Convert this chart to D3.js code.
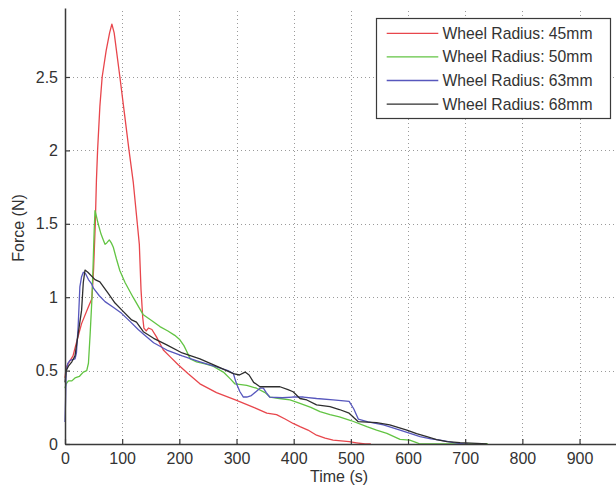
<!DOCTYPE html>
<html><head><meta charset="utf-8">
<script src="https://cdn.jsdelivr.net/npm/d3@7"></script>
<style>html,body{margin:0;padding:0;background:#fff;}svg{display:block;}</style>
</head><body>
<svg id="c" width="616" height="493"></svg>
<script>
const seriesNames = ["Wheel Radius: 45mm","Wheel Radius: 50mm","Wheel Radius: 63mm","Wheel Radius: 68mm"];
const seriesColors = ["#e8464c","#62c443","#5757bd","#2e2e2e"];
const xTicks = [0,100,200,300,400,500,600,700,800,900];
const yTicks = [0,0.5,1,1.5,2,2.5];

const r45 = [[0,0.45],[2,0.52],[6,0.55],[14,0.6],[20,0.69],[29,0.82],[41,0.935],[47,0.99],[50,1.19],[53,1.5],[55,1.8],[57,2.0],[61,2.3],[65,2.5],[72,2.68],[78,2.8],[82,2.86],[86,2.8],[96,2.5],[104,2.25],[112,2.0],[119.5,1.78],[126.5,1.5],[130,1.36],[133,1.05],[136,0.86],[138,0.79],[142,0.77],[146,0.79],[152,0.78],[160,0.73],[172,0.64],[185,0.59],[198,0.54],[215,0.48],[236,0.41],[265,0.35],[298,0.30],[330,0.25],[353,0.21],[370,0.20],[385,0.17],[399,0.14],[411,0.118],[425,0.095],[440,0.06],[455,0.04],[469,0.027],[497,0.016],[510,0.008],[525,0],[535,0]];
const r50 = [[0,0.38],[2,0.41],[6,0.43],[12,0.43],[17.5,0.45],[25,0.46],[32,0.49],[38,0.5],[41,0.55],[44,0.75],[47,0.98],[49,1.2],[51,1.45],[52.5,1.59],[55,1.55],[58,1.5],[63,1.43],[67,1.39],[70,1.36],[73,1.37],[77.5,1.39],[81,1.37],[84.5,1.34],[90,1.26],[96,1.18],[105,1.1],[119,1.0],[137,0.88],[152,0.84],[166,0.8],[180,0.77],[192,0.74],[201,0.71],[208,0.67],[213,0.63],[219,0.58],[230,0.56],[245,0.545],[259,0.53],[277,0.49],[290,0.44],[297,0.41],[308,0.405],[318,0.40],[335,0.38],[350,0.35],[358.5,0.32],[375,0.31],[393.6,0.30],[411,0.277],[430,0.25],[446,0.22],[463.5,0.2],[480,0.185],[500,0.16],[528,0.118],[545,0.095],[563,0.073],[586,0.032],[603,0.027],[615,0.01],[621,0],[740,0]];
const r63 = [[0,0.15],[1,0.3],[2,0.5],[5,0.55],[8.7,0.57],[17.5,0.58],[20,0.62],[23,0.80],[26,1.07],[29,1.14],[32,1.17],[36,1.16],[41,1.12],[46.6,1.09],[50,1.06],[60,1.01],[70,0.97],[85,0.93],[99,0.89],[115,0.83],[128,0.78],[137,0.75],[155,0.69],[178,0.64],[205,0.6],[236,0.56],[265,0.525],[285,0.5],[294.5,0.48],[297,0.447],[300,0.41],[306,0.356],[312,0.32],[318,0.32],[326,0.33],[335,0.36],[341,0.38],[347,0.38],[352,0.35],[358,0.32],[380,0.315],[398,0.32],[417,0.32],[440,0.31],[469,0.30],[497,0.29],[505,0.24],[513,0.17],[530,0.15],[557,0.13],[586,0.095],[605,0.07],[621,0.05],[640,0.035],[656,0.027],[680,0.01],[697,0],[705,0]];
const r68 = [[0,0.42],[2,0.5],[6,0.53],[12,0.56],[17.5,0.6],[23,0.75],[29,0.91],[32,1.1],[35,1.185],[40,1.17],[52.5,1.12],[61,1.105],[75,1.03],[87.5,0.96],[100,0.91],[116.6,0.845],[125,0.83],[137,0.765],[155,0.72],[178,0.675],[205,0.62],[236,0.58],[265,0.53],[294.5,0.48],[305,0.47],[315,0.49],[322,0.47],[330,0.42],[341,0.39],[360,0.39],[376,0.39],[390,0.37],[399,0.356],[411,0.31],[423,0.30],[440,0.266],[463.5,0.254],[480,0.235],[497,0.21],[505,0.18],[513,0.152],[545,0.145],[568,0.13],[598,0.095],[615,0.07],[633,0.05],[650,0.03],[668,0.016],[691,0.009],[720,0.004],[738,0]];
const seriesData = [r45, r50, r63, r68];

const svg = d3.select("#c");
const x = d3.scaleLinear().domain([0,1000]).range([65,636.7]);
const y = d3.scaleLinear().domain([0,2.97]).range([444,8]);
const font = "'Liberation Sans', Arial, sans-serif";

// grid (includes 1000 line, off the right edge)
const gridX = xTicks.concat([1000]).filter(d=>d>0);
const grid = svg.append("g").attr("stroke","#9a9a9a").attr("stroke-width",1).attr("stroke-dasharray","1,3");
grid.selectAll("line.v").data(gridX).enter().append("line")
  .attr("x1",d=>Math.round(x(d))+0.5).attr("x2",d=>Math.round(x(d))+0.5).attr("y1",y.range()[0]).attr("y2",y.range()[1]);
grid.selectAll("line.h").data(yTicks.filter(d=>d>0)).enter().append("line")
  .attr("y1",d=>Math.round(y(d))+0.5).attr("y2",d=>Math.round(y(d))+0.5).attr("x1",x.range()[0]).attr("x2",x.range()[1]);

// lines
const line = d3.line().x(d=>x(d[0])).y(d=>y(d[1]));
svg.append("g").selectAll("path").data(seriesData).enter().append("path")
  .attr("d",line).attr("fill","none").attr("stroke",(d,i)=>seriesColors[i])
  .attr("stroke-width",1.3).attr("stroke-linejoin","round");

// axes
const xAxis = svg.append("g").attr("transform",`translate(0,${y(0)})`)
  .call(d3.axisBottom(x).tickValues(xTicks).tickFormat(d3.format("d")).tickSize(-5).tickSizeOuter(0).tickPadding(8.5));
const yAxis = svg.append("g").attr("transform",`translate(${x(0)},0)`)
  .call(d3.axisLeft(y).tickValues(yTicks).tickFormat(d=>String(d)).tickSize(-5).tickSizeOuter(0).tickPadding(7));
[xAxis,yAxis].forEach(a=>{
  a.select(".domain").attr("stroke","#3a3a3a").attr("stroke-width",1.5);
  a.selectAll(".tick line").attr("stroke","#3a3a3a").attr("stroke-width",1.2);
  a.selectAll(".tick text").attr("fill","#333").style("font-family",font).style("font-size","16px");
});

svg.append("text").attr("x",339).attr("y",482).attr("text-anchor","middle")
  .style("font-family",font).style("font-size","16px").attr("fill","#333").text("Time (s)");
svg.append("text").attr("transform","translate(24,228) rotate(-90)").attr("text-anchor","middle")
  .style("font-family",font).style("font-size","16px").attr("fill","#333").text("Force (N)");

// legend
const lg = svg.append("g");
lg.append("rect").attr("x",376.5).attr("y",18.5).attr("width",234).attr("height",100)
  .attr("fill","#fff").attr("stroke","#3a3a3a").attr("stroke-width",1.2);
const rows = lg.selectAll("g.row").data(seriesNames).enter().append("g")
  .attr("transform",(d,i)=>`translate(0,${33.3+i*23.6})`);
rows.append("line").attr("x1",386.7).attr("x2",438.3).attr("y1",0).attr("y2",0)
  .attr("stroke",(d,i)=>seriesColors[i]).attr("stroke-width",1.3);
rows.append("text").attr("x",442.5).attr("y",0).attr("dy","0.35em")
  .style("font-family",font).style("font-size","15.7px").attr("fill","#333").text(d=>d);
</script>
</body></html>
